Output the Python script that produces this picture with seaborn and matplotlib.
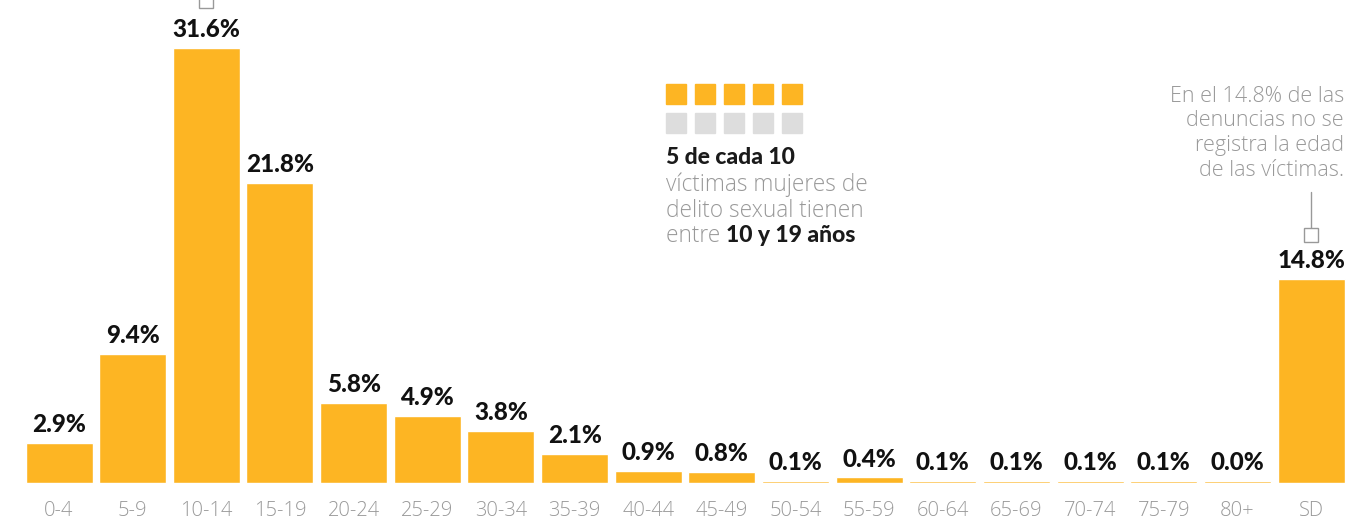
import matplotlib
matplotlib.use('Agg')
import matplotlib.pyplot as plt
import seaborn as sns
import pandas as pd
from matplotlib.patches import Rectangle

# ─── Data ─────────────────────────────────────────────────────────────────────
edades = ['0-4', '5-9', '10-14', '15-19', '20-24', '25-29', '30-34', '35-39',
          '40-44', '45-49', '50-54', '55-59', '60-64', '65-69', '70-74',
          '75-79', '80+', 'SD']
porcentajes = [2.9, 9.4, 31.6, 21.8, 5.8, 4.9, 3.8, 2.1, 0.9, 0.8,
               0.1, 0.4, 0.1, 0.1, 0.1, 0.1, 0.0, 14.8]
nota = ['En el 14.8% de las', 'denuncias no se',
        'registra la edad', 'de las víctimas.']
min_visible = 0.15  # thin line for tiny values so the bar still shows

ORANGE = '#FDB523'
GRAY_TXT = '#999999'
LIGHT = 'Open Sans'
BOLD = 'Lato'

sns.set_theme(style='white')
plt.rcParams['font.family'] = [LIGHT, 'DejaVu Sans']

df = pd.DataFrame({'edad': edades, 'pct': porcentajes})
df['alto'] = df['pct'].clip(lower=min_visible)

W, H = 1360, 529
fig = plt.figure(figsize=(W / 100, H / 100), dpi=100)
ax = fig.add_axes([22.2 / W, (H - 483) / H, 1325.7 / W, 483 / H])

sns.barplot(data=df, x='edad', y='alto', color=ORANGE, saturation=1,
            width=0.91, ax=ax)
ax.set_xlim(-0.5, len(edades) - 0.5)
ax.set_ylim(0, 35.08)
sns.despine(ax=ax, left=True, bottom=True)
ax.set_yticks([])
ax.set_xlabel('')
ax.set_ylabel('')
ax.tick_params(axis='x', length=0, pad=13)
for lab in ax.get_xticklabels():
    lab.set_color(GRAY_TXT)
    lab.set_fontsize(14.5)
    lab.set_fontweight('light')

# value labels
for i, v in enumerate(porcentajes):
    ax.annotate(f'{v:.1f}%', (i, max(v, min_visible)), xytext=(0, 5),
                textcoords='offset points', ha='center', va='bottom',
                fontsize=17.5, fontweight='black', family=BOLD, color='#111111')

# callout markers
ax.plot([2], [35.0], marker='s', ms=10, mfc='white', mec='#999999',
        mew=1, clip_on=False, zorder=5)
ax.plot([17, 17], [18.5, 21.1], color='#999999', lw=1, clip_on=False)
ax.plot([17], [18.0], marker='s', ms=10, mfc='white', mec='#999999',
        mew=1, clip_on=False, zorder=5)

# note on missing ages
for k, linea in enumerate(nota):
    fig.text(1344 / W, 1 - (96 + 25 * k) / H, linea, ha='right', va='center',
             fontsize=15.5, fontweight='light', color=GRAY_TXT)

# waffle: 5 of 10
for k in range(5):
    x0 = 666 + k * 29
    fig.patches.append(Rectangle((x0 / W, 1 - 104 / H), 20 / W, 20 / H,
                                 transform=fig.transFigure, color=ORANGE))
    fig.patches.append(Rectangle((x0 / W, 1 - 133 / H), 20 / W, 20 / H,
                                 transform=fig.transFigure, color='#dddddd'))

fig.text(666 / W, 1 - 158 / H, '5 de cada 10', ha='left', va='center',
         fontsize=16.5, fontweight='black', family=BOLD, color='#1a1a1a')
fig.text(666 / W, 1 - 185 / H, 'víctimas mujeres de', ha='left', va='center',
         fontsize=16.3, fontweight='light', color=GRAY_TXT)
fig.text(666 / W, 1 - 211 / H, 'delito sexual tienen', ha='left', va='center',
         fontsize=16.3, fontweight='light', color=GRAY_TXT)
t = fig.text(666 / W, 1 - 236 / H, 'entre ', ha='left', va='center',
             fontsize=16.3, fontweight='light', color=GRAY_TXT)
fig.canvas.draw()
bb = t.get_window_extent()
fig.text(bb.x1 / W, 1 - 236 / H, '10 y 19 años', ha='left', va='center',
         fontsize=16.5, fontweight='black', family=BOLD, color='#1a1a1a')

fig.savefig('out.png', dpi=100)
